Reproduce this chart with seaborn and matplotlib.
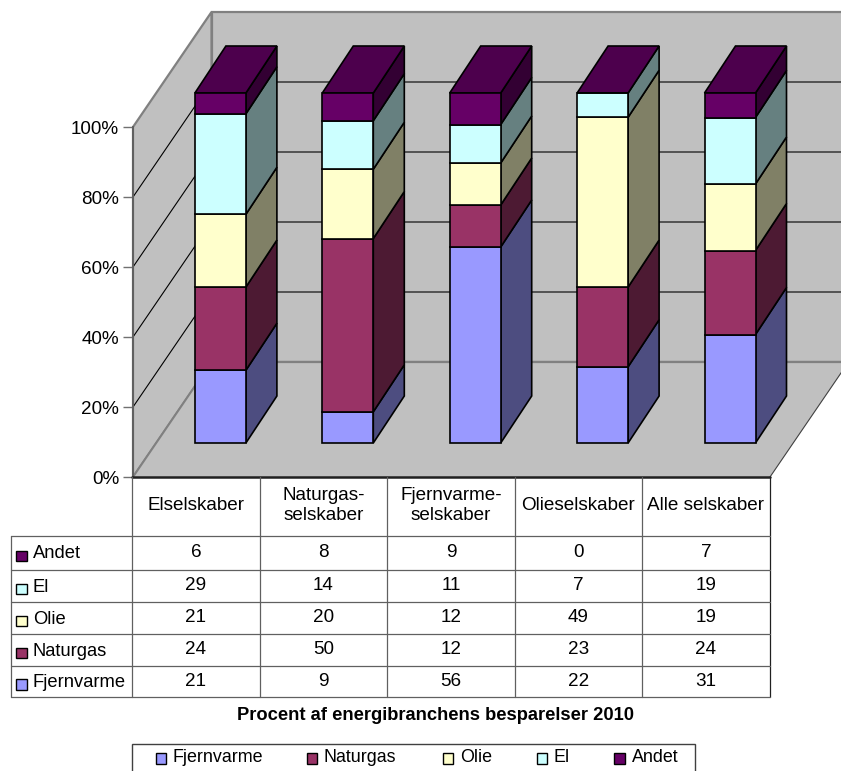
import numpy as np
import pandas as pd
import matplotlib
matplotlib.use('Agg')
import matplotlib.pyplot as plt
from matplotlib.patches import Polygon, Rectangle
import seaborn as sns

# Data, bottom of the stack first
groups = ['Elselskaber', 'Naturgas-\nselskaber', 'Fjernvarme-\nselskaber', 'Olieselskaber', 'Alle selskaber']
series = ['Fjernvarme', 'Naturgas', 'Olie', 'El', 'Andet']
fjernvarme = [21, 9, 56, 22, 31]
naturgas = [24, 50, 12, 23, 24]
olie = [21, 20, 12, 49, 19]
el = [29, 14, 11, 7, 19]
andet = [6, 8, 9, 0, 7]
pct_ticks = [0, 20, 40, 60, 80, 100]

front_colors = ['#9999FF', '#993366', '#FFFFCC', '#CCFFFF', '#660066']
side_colors = ['#4D4D80', '#4D1A33', '#808066', '#668080', '#330033']
top_color = '#4D004D'
wall_color = '#C0C0C0'

W, H = 841, 771
sns.set_theme(style='white')
plt.rcParams['font.family'] = ['Liberation Sans', 'DejaVu Sans']

fig = plt.figure(figsize=(W / 100, H / 100), dpi=100, facecolor='white')

# main axes = front plane of the 3D box, in pixels 133..770 and 477..127
ax = fig.add_axes([133 / W, 1 - 477 / H, (770 - 133) / W, 350 / H])
ax.set_facecolor('none')

px_x = 5 / (770 - 133)   # data units per pixel
px_y = 100 / 350


def depth(x, y, dx_px, dy_px):
    return x + dx_px * px_x, y + dy_px * px_y


# walls and floor
wall_dx, wall_dy = 78.5, 115
x_far = 6
bx0, by0 = depth(0, 0, wall_dx, wall_dy)
bx1, _ = depth(x_far, 0, wall_dx, wall_dy)
by1 = by0 + 100
edge = '#808080'
ax.add_patch(Polygon([(bx0, by0), (bx1, by0), (bx1, by1), (bx0, by1)], fc=wall_color, ec=edge, lw=1.6,
                     clip_on=False, zorder=1))
ax.add_patch(Polygon([(0, 0), (bx0, by0), (bx0, by1), (0, 100)], fc=wall_color, ec=edge, lw=1.6,
                     clip_on=False, zorder=1))
ax.add_patch(Polygon([(0, 0), (bx0, by0), (bx1, by0), (x_far, 0)], fc=wall_color, ec='none',
                     clip_on=False, zorder=1))
# floor edges
ax.plot([bx0, bx1], [by0, by0], color=edge, lw=1.6, clip_on=False, zorder=2)
ax.plot([0, bx0], [0, by0], color=edge, lw=1.4, clip_on=False, zorder=2)
fx, fy = depth(5, 0, wall_dx, wall_dy)
# white beyond the floor's right edge
ax.add_patch(Polygon([(5, 0), (fx, fy), (x_far + 2, fy), (x_far + 2, 0)], fc='white', ec='none',
                     clip_on=False, zorder=1.5))
ax.plot([5, fx], [0, fy], color='#404040', lw=0.8, clip_on=False, zorder=2)

# gridlines on the two walls
for p in pct_ticks[1:-1]:
    ax.plot([0, bx0, bx1], [p, by0 + p, by0 + p], color='black', lw=0.8, clip_on=False, zorder=2)

# stacked bars, normalised to 100 %
values = np.array([fjernvarme, naturgas, olie, el, andet], dtype=float)
shares = values / values.sum(axis=0) * 100

bar_dx, bar_dy = 23.7, 34
side_dx, side_dy = 31, 47
bar_w = 51 * px_x
bar_lw = 1.2
pos, lift = depth(np.arange(5) + 0.5, 0, bar_dx, bar_dy)

df = pd.DataFrame(shares.T, columns=series)
df['pos'] = pos
bottoms = np.full(5, lift)
for j, name in enumerate(series):
    sns.barplot(data=df, x='pos', y=name, bottom=bottoms, native_scale=True, width=bar_w,
                color=front_colors[j], saturation=1, edgecolor='black', linewidth=bar_lw,
                clip_on=False, zorder=5, ax=ax)
    for i in range(5):
        if shares[j, i] == 0:
            continue
        xr = pos[i] + bar_w / 2
        y0, y1 = bottoms[i], bottoms[i] + shares[j, i]
        x2, y0b = depth(xr, y0, side_dx, side_dy)
        _, y1b = depth(xr, y1, side_dx, side_dy)
        ax.add_patch(Polygon([(xr, y0), (x2, y0b), (x2, y1b), (xr, y1)], fc=side_colors[j], ec='black',
                             lw=bar_lw, clip_on=False, zorder=4))
    bottoms = bottoms + shares[j]

# top faces
for i in range(5):
    xl, xr = pos[i] - bar_w / 2, pos[i] + bar_w / 2
    y = bottoms[i]
    xlb, yb = depth(xl, y, side_dx, side_dy)
    xrb, _ = depth(xr, y, side_dx, side_dy)
    ax.add_patch(Polygon([(xl, y), (xr, y), (xrb, yb), (xlb, yb)], fc=top_color, ec='black', lw=bar_lw,
                         clip_on=False, zorder=4.5))

ax.set_xlim(0, 5)
ax.set_ylim(0, 100)
ax.set_xlabel('')
ax.set_ylabel('')
ax.set_xticks([])
ax.set_yticks(pct_ticks)
ax.set_yticklabels([f'{p}%' for p in pct_ticks], fontsize=13.6, color='black')
ax.tick_params(axis='y', left=True, length=7.5, width=1, color='#707070', pad=2.5)
ax.grid(False)
for s in ['top', 'right', 'bottom']:
    ax.spines[s].set_visible(False)
ax.spines['left'].set_color('#606060')
ax.spines['left'].set_linewidth(1.4)
ax.spines['left'].set_zorder(3)

# overlay in pixel coordinates for the data table, title and legend
ov = fig.add_axes([0, 0, 1, 1])
ov.set_xlim(0, W)
ov.set_ylim(H, 0)
ov.axis('off')
ov.patch.set_alpha(0)

col_x = [132, 260, 387, 515, 642, 770]
row_y = [536, 570, 602, 634, 666, 697]
line_c = '#606060'
ov.plot([132, 770], [477, 477], color='#202020', lw=1.8)
for x in col_x:
    ov.plot([x, x], [477, row_y[-1]], color=line_c if x != 770 else '#202020', lw=0.9)
ov.plot([11, 11], [row_y[0], row_y[-1]], color=line_c, lw=0.9)
for y in row_y:
    ov.plot([11, 770], [y, y], color=line_c, lw=0.9)

font = 13.6
for i, g in enumerate(groups):
    ov.text((col_x[i] + col_x[i + 1]) / 2, 505.5, g, ha='center', va='center', fontsize=font,
            linespacing=1.3, color='black')

for r, j in enumerate([4, 3, 2, 1, 0]):
    yc = (row_y[r] + row_y[r + 1]) / 2
    ov.add_patch(Rectangle((16.5, yc - 2.5), 10.5, 10.5, fc=front_colors[j], ec='black', lw=1))
    ov.text(33, yc + 1, series[j], ha='left', va='center', fontsize=13.2, color='black')
    for i in range(5):
        ov.text((col_x[i] + col_x[i + 1]) / 2, yc - 0.5, f'{int(values[j, i])}', ha='center', va='center',
                fontsize=font, color='black')

ov.text(436, 715, 'Procent af energibranchens besparelser 2010', ha='center', va='center',
        fontsize=13.2, fontweight='bold', color='black')

# legend box
ov.add_patch(Rectangle((132, 744), 563, 30, fc='white', ec='#404040', lw=1, clip_on=False))
for name, col, xl in zip(series, front_colors, [156, 307, 443, 537, 614.5]):
    ov.add_patch(Rectangle((xl, 753), 10.5, 10.5, fc=col, ec='black', lw=1))
    ov.text(xl + 17, 758, name, ha='left', va='center', fontsize=12.9, color='black')

fig.savefig('out.png', dpi=100)
